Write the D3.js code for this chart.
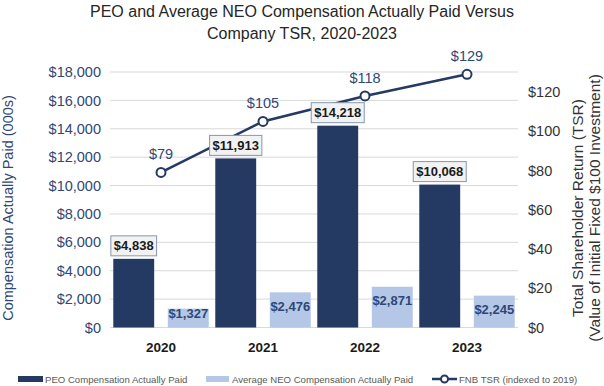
<!DOCTYPE html>
<html lang="en">
    <head>
        <meta charset="utf-8">
        <title>PEO and Average NEO Compensation Actually Paid Versus Company TSR</title>
        <style>
            body { margin: 0; background: #fff; }
            text { font-family: "Liberation Sans", Arial, sans-serif; }
            .grid line { stroke: #d9d9d9; stroke-width: 1px; }
        </style>
    </head>
    <body>
        <script src="https://d3js.org/d3.v7.min.js"></script>
        <script type="text/javascript">

            // chart data
            var years = ["2020", "2021", "2022", "2023"];
            var peoComp = [4838, 11913, 14218, 10068];
            var neoComp = [1327, 2476, 2871, 2245];
            var tsr = [79, 105, 118, 129];
            var leftTicks = [0, 2000, 4000, 6000, 8000, 10000, 12000, 14000, 16000, 18000];
            var rightTicks = [0, 20, 40, 60, 80, 100, 120];

            var navy = "#253a62",
                lightBlue = "#b4c7e7",
                labelBlue = "#2f4776";

            var width = 604, height = 386;
            var plot = {left: 110, right: 518, top: 72, bottom: 327.5};

            var svg = d3.select("body")
                .append("svg")
                .attr("width", width)
                .attr("height", height);

            // scales
            var x0 = d3.scaleBand()
                .domain(years)
                .range([plot.left, plot.right]);

            var x1 = d3.scaleBand()
                .domain(["peo", "neo"])
                .range([0, x0.bandwidth()])
                .paddingInner(0.25)
                .paddingOuter(0.06);

            var yLeft = d3.scaleLinear()
                .domain([0, 18000])
                .range([plot.bottom, plot.top]);

            var yRight = d3.scaleLinear()
                .domain([0, 120])
                .range([plot.bottom, 92]);

            var fmt = d3.format(",");

            // title
            var title = svg.append("text")
                .attr("x", width / 2)
                .attr("text-anchor", "middle")
                .style("font-size", "16px")
                .style("fill", "#262626");
            title.append("tspan").attr("x", width / 2).attr("y", 17)
                .text("PEO and Average NEO Compensation Actually Paid Versus");
            title.append("tspan").attr("x", width / 2).attr("y", 39)
                .text("Company TSR, 2020-2023");

            // gridlines
            svg.append("g")
                .attr("class", "grid")
                .selectAll("line")
                .data(leftTicks)
                .join("line")
                .attr("x1", plot.left)
                .attr("x2", plot.right)
                .attr("y1", d => yLeft(d))
                .attr("y2", d => yLeft(d));

            // left axis
            var leftAxis = svg.append("g")
                .attr("transform", "translate(" + (plot.left - 6) + ",0)")
                .call(d3.axisLeft(yLeft).tickValues(leftTicks).tickSize(0)
                    .tickFormat(d => "$" + fmt(d)));
            leftAxis.select(".domain").remove();
            leftAxis.selectAll("text")
                .style("font-size", "14.5px")
                .style("fill", labelBlue)
                .style("font-family", "'Liberation Sans', Arial, sans-serif");

            // right axis
            var rightAxis = svg.append("g")
                .attr("transform", "translate(" + (plot.right + 10) + ",0)")
                .call(d3.axisRight(yRight).tickValues(rightTicks).tickSize(0)
                    .tickFormat(d => "$" + d));
            rightAxis.select(".domain").remove();
            rightAxis.selectAll("text")
                .attr("x", 0)
                .style("font-size", "14.5px")
                .style("fill", "#333")
                .style("font-family", "'Liberation Sans', Arial, sans-serif");

            // axis titles
            svg.append("text")
                .attr("transform", "translate(13,208) rotate(-90)")
                .attr("text-anchor", "middle")
                .style("font-size", "14.5px")
                .style("fill", labelBlue)
                .text("Compensation Actually Paid (000s)");

            var rTitle = svg.append("text")
                .attr("transform", "translate(583,208) rotate(-90)")
                .attr("text-anchor", "middle")
                .style("font-size", "15.5px")
                .style("fill", "#333");
            rTitle.append("tspan").attr("x", 0).attr("y", 0)
                .text("Total Shareholder Return (TSR)");
            rTitle.append("tspan").attr("x", 0).attr("y", 17)
                .text("(Value of Initial Fixed $100 Investment)");

            // bars
            var peoX = (d, i) => x0(years[i]) + x1("peo");
            var neoX = (d, i) => x0(years[i]) + x1("neo");

            svg.append("g").selectAll("rect")
                .data(peoComp)
                .join("rect")
                .attr("x", peoX)
                .attr("y", d => yLeft(d))
                .attr("width", x1.bandwidth())
                .attr("height", d => yLeft(0) - yLeft(d))
                .attr("fill", navy);

            svg.append("g").selectAll("rect")
                .data(neoComp)
                .join("rect")
                .attr("x", neoX)
                .attr("y", d => yLeft(d))
                .attr("width", x1.bandwidth())
                .attr("height", d => yLeft(0) - yLeft(d))
                .attr("fill", lightBlue);

            // year labels
            svg.append("g").selectAll("text")
                .data(years)
                .join("text")
                .attr("x", d => x0(d) + x0.bandwidth() / 2)
                .attr("y", 352)
                .attr("text-anchor", "middle")
                .style("font-size", "13.5px")
                .style("font-weight", "bold")
                .style("fill", "#1a1a1a")
                .text(d => d);

            // NEO value labels inside bars
            svg.append("g").selectAll("text")
                .data(neoComp)
                .join("text")
                .attr("x", (d, i) => neoX(d, i) + x1.bandwidth() / 2)
                .attr("y", d => Math.min(yLeft(d) + 14, yLeft(0) - 14) + 4.5)
                .attr("text-anchor", "middle")
                .style("font-size", "13px")
                .style("font-weight", "bold")
                .style("fill", labelBlue)
                .text(d => "$" + fmt(d));

            // TSR line
            var cx = (d, i) => x0(years[i]) + x0.bandwidth() / 2;
            var line = d3.line()
                .x(cx)
                .y(d => yRight(d));

            svg.append("path")
                .datum(tsr)
                .attr("d", line)
                .attr("fill", "none")
                .attr("stroke", navy)
                .attr("stroke-width", 2.5);

            svg.append("g").selectAll("circle")
                .data(tsr)
                .join("circle")
                .attr("cx", cx)
                .attr("cy", d => yRight(d))
                .attr("r", 4.5)
                .attr("fill", "#fff")
                .attr("stroke", navy)
                .attr("stroke-width", 2);

            svg.append("g").selectAll("text")
                .data(tsr)
                .join("text")
                .attr("x", cx)
                .attr("y", d => yRight(d) - 13)
                .attr("text-anchor", "middle")
                .style("font-size", "14.5px")
                .style("fill", labelBlue)
                .text(d => "$" + d);

            // PEO value labels in boxes (drawn last so they sit over the line)
            var peoLabels = svg.append("g").selectAll("g")
                .data(peoComp)
                .join("g")
                .attr("transform", (d, i) => "translate(" + (peoX(d, i) + x1.bandwidth() / 2) + "," + (yLeft(d) - 13) + ")");

            peoLabels.append("text")
                .attr("text-anchor", "middle")
                .attr("y", 4.5)
                .style("font-size", "13px")
                .style("font-weight", "bold")
                .style("fill", "#1a1a1a")
                .text(d => "$" + fmt(d));

            peoLabels.each(function () {
                var g = d3.select(this);
                var bb = g.select("text").node().getBBox();
                g.insert("rect", "text")
                    .attr("x", bb.x - 3)
                    .attr("y", -10)
                    .attr("width", bb.width + 6)
                    .attr("height", 20)
                    .attr("fill", "#f2f2f2")
                    .attr("stroke", "#8497b0")
                    .attr("stroke-width", 1);
            });

            // legend
            var legend = svg.append("g").attr("transform", "translate(0,379)");

            legend.append("rect").attr("x", 18).attr("y", -3).attr("width", 25).attr("height", 6).attr("fill", navy);
            legend.append("text").attr("x", 45).attr("y", 3.5)
                .style("font-size", "9.6px").style("fill", "#595959")
                .text("PEO Compensation Actually Paid");

            legend.append("rect").attr("x", 206).attr("y", -3).attr("width", 23).attr("height", 6).attr("fill", lightBlue);
            legend.append("text").attr("x", 232).attr("y", 3.5)
                .style("font-size", "9.6px").style("fill", "#595959")
                .text("Average NEO Compensation Actually Paid");

            legend.append("line").attr("x1", 432).attr("x2", 457).attr("y1", 0).attr("y2", 0)
                .attr("stroke", navy).attr("stroke-width", 2.5);
            legend.append("circle").attr("cx", 444.5).attr("cy", 0).attr("r", 3.5)
                .attr("fill", "#fff").attr("stroke", navy).attr("stroke-width", 2);
            legend.append("text").attr("x", 459).attr("y", 3.5)
                .style("font-size", "9.6px").style("fill", "#595959")
                .text("FNB TSR (indexed to 2019)");

        </script>
    </body>
</html>
